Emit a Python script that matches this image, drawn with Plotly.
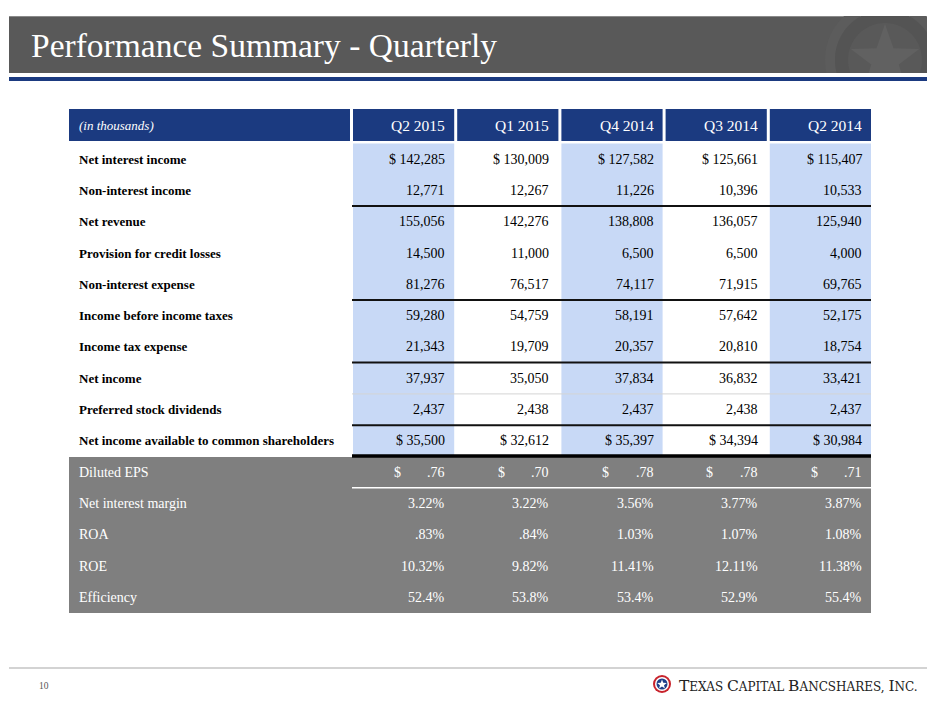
import math
import plotly.graph_objects as go

# --- data (in thousands) ---
quarters = ["Q2 2015", "Q1 2015", "Q4 2014", "Q3 2014", "Q2 2014"]

row_labels = [
    "Net interest income",
    "Non-interest income",
    "Net revenue",
    "Provision for credit losses",
    "Non-interest expense",
    "Income before income taxes",
    "Income tax expense",
    "Net income",
    "Preferred stock dividends",
    "Net income available to common shareholders",
]
net_interest_income = [142285, 130009, 127582, 125661, 115407]
non_interest_income = [12771, 12267, 11226, 10396, 10533]
net_revenue = [155056, 142276, 138808, 136057, 125940]
provision = [14500, 11000, 6500, 6500, 4000]
non_interest_expense = [81276, 76517, 74117, 71915, 69765]
income_before_taxes = [59280, 54759, 58191, 57642, 52175]
income_tax = [21343, 19709, 20357, 20810, 18754]
net_income = [37937, 35050, 37834, 36832, 33421]
preferred_dividends = [2437, 2438, 2437, 2438, 2437]
net_income_common = [35500, 32612, 35397, 34394, 30984]

ratio_labels = ["Diluted EPS", "Net interest margin", "ROA", "ROE", "Efficiency"]
diluted_eps = [0.76, 0.70, 0.78, 0.78, 0.71]
net_interest_margin = [3.22, 3.22, 3.56, 3.77, 3.87]
roa = [0.83, 0.84, 1.03, 1.07, 1.08]
roe = [10.32, 9.82, 11.41, 12.11, 11.38]
efficiency = [52.4, 53.8, 53.4, 52.9, 55.4]

amount_rows = [net_interest_income, non_interest_income, net_revenue, provision,
               non_interest_expense, income_before_taxes, income_tax, net_income,
               preferred_dividends, net_income_common]
dollar_rows = {0, 9}


def no_lead_zero(s):
    return s[1:] if s.startswith("0") else s


ratio_text = [
    [no_lead_zero(f"{v:.2f}") for v in diluted_eps],
    [no_lead_zero(f"{v:.2f}") + "%" for v in net_interest_margin],
    [no_lead_zero(f"{v:.2f}") + "%" for v in roa],
    [no_lead_zero(f"{v:.2f}") + "%" for v in roe],
    [f"{v:.1f}%" for v in efficiency],
]

# --- geometry / style ---
W, H = 940, 705
OFF = 8  # page body margin, so axis units equal window pixels
FONT = "Liberation Serif"
NAVY = "#1b3a80"
SHADE = "#c8d9f6"
GRAY_SEC = "#7f7f7f"
BAR = "#595959"

TABLE_X0, LABEL_X1 = 69, 350
VAL_X0, VAL_X1, GAP = 353, 871, 3
COL_W = (VAL_X1 - VAL_X0 - 4 * GAP) / 5
HEAD_Y0, HEAD_Y1 = 109, 141
ROW_Y0, ROW_H = 143.5, 31.3
PAD = 7
BAR_X0, BAR_X1, BAR_Y0, BAR_Y1 = 9, 927, 16, 73


def col_x(j):
    x0 = VAL_X0 + j * (COL_W + GAP)
    return x0, x0 + COL_W


def row_y(i):
    y0 = ROW_Y0 + i * ROW_H
    return y0, y0 + ROW_H


def row_c(i):
    return ROW_Y0 + (i + 0.5) * ROW_H


def star_pts(cx, cy, r_out, r_in):
    pts = []
    for k in range(10):
        r = r_out if k % 2 == 0 else r_in
        a = -math.pi / 2 + k * math.pi / 5
        pts.append((cx + r * math.cos(a), cy + r * math.sin(a)))
    return pts


def ring_pts(cx, cy, r0, r1, n=120):
    outer = [(cx + r1 * math.cos(2 * math.pi * k / n), cy + r1 * math.sin(2 * math.pi * k / n))
             for k in range(n + 1)]
    inner = [(cx + r0 * math.cos(2 * math.pi * k / n), cy + r0 * math.sin(2 * math.pi * k / n))
             for k in range(n, -1, -1)]
    return outer + inner


def clip(poly, x0, y0, x1, y1):
    # Sutherland-Hodgman against the header bar rectangle
    edges = [(lambda p: p[0] >= x0, lambda a, b: (x0, a[1] + (b[1] - a[1]) * (x0 - a[0]) / (b[0] - a[0]))),
             (lambda p: p[0] <= x1, lambda a, b: (x1, a[1] + (b[1] - a[1]) * (x1 - a[0]) / (b[0] - a[0]))),
             (lambda p: p[1] >= y0, lambda a, b: (a[0] + (b[0] - a[0]) * (y0 - a[1]) / (b[1] - a[1]), y0)),
             (lambda p: p[1] <= y1, lambda a, b: (a[0] + (b[0] - a[0]) * (y1 - a[1]) / (b[1] - a[1]), y1))]
    out = poly
    for inside, cut in edges:
        src, out = out, []
        if not src:
            break
        prev = src[-1]
        for cur in src:
            if inside(cur):
                if not inside(prev):
                    out.append(cut(prev, cur))
                out.append(cur)
            elif inside(prev):
                out.append(cut(prev, cur))
            prev = cur
    return out


def to_path(pts):
    return "M " + " L ".join(f"{x:.2f},{y:.2f}" for x, y in pts) + " Z"


shapes = []
ann = []


def rect(x0, y0, x1, y1, color):
    shapes.append(dict(type="rect", xref="x", yref="y", x0=x0, y0=y0, x1=x1, y1=y1,
                       fillcolor=color, line=dict(width=0)))


def hline(y, x0, x1, color, width):
    shapes.append(dict(type="line", xref="x", yref="y", x0=x0, x1=x1, y0=y, y1=y,
                       line=dict(color=color, width=width)))


def text(x, y, s, size, color="#000", anchor="left", bold=False, italic=False, family=FONT):
    ann.append(dict(x=x, y=y, xref="x", yref="y", text=s, showarrow=False,
                    xanchor=anchor, yanchor="middle",
                    font=dict(family=family, size=size, color=color,
                              weight="bold" if bold else "normal",
                              style="italic" if italic else "normal")))


def deco(pts, color):
    p = clip(pts, BAR_X0, BAR_Y0, BAR_X1, BAR_Y1)
    if p:
        shapes.append(dict(type="path", xref="x", yref="y", path=to_path(p),
                           fillcolor=color, line=dict(width=0)))


# header bar with faint watermark
rect(BAR_X0, BAR_Y0, BAR_X1, BAR_Y1, BAR)
hline(16.5, BAR_X0, BAR_X1, "#8a8a8a", 1)
deco(ring_pts(885, 60, 50, 60), "#5c5c5c")
deco(ring_pts(885, 60, 37, 50), "#545454")
deco(star_pts(885, 60, 36, 14.5), "#616161")
rect(BAR_X0, 77, BAR_X1, 81, NAVY)
text(29, 45, "Performance Summary - Quarterly", 33.5, "white")

# table header
rect(TABLE_X0, HEAD_Y0, LABEL_X1, HEAD_Y1, NAVY)
text(77, (HEAD_Y0 + HEAD_Y1) / 2, "(in thousands)", 13, "white", italic=True)
for j, q in enumerate(quarters):
    x0, x1 = col_x(j)
    rect(x0, HEAD_Y0, x1, HEAD_Y1, NAVY)
    text(x1 - PAD, (HEAD_Y0 + HEAD_Y1) / 2 + 0.5, q, 15.5, "white", anchor="right")

# shaded columns over the amount rows
for j in range(0, 5, 2):
    x0, x1 = col_x(j)
    rect(x0, row_y(0)[0], x1, row_y(len(amount_rows) - 1)[1], SHADE)

# ratio section background
rect(TABLE_X0, row_y(len(amount_rows))[0] + 0.5, VAL_X1,
     row_y(len(amount_rows) + len(ratio_labels) - 1)[1], GRAY_SEC)

# amount rows
for i, (lab, vals) in enumerate(zip(row_labels, amount_rows)):
    yc = row_c(i)
    text(77, yc, lab, 13, "#000", bold=True)
    for j, v in enumerate(vals):
        s = f"{v:,}"
        if i in dollar_rows:
            s = "$ " + s
        text(col_x(j)[1] - PAD, yc, s, 14, "#000", anchor="right")

# ratio rows
for k, (lab, vals) in enumerate(zip(ratio_labels, ratio_text)):
    i = len(amount_rows) + k
    yc = row_c(i)
    text(77, yc, lab, 14, "white")
    for j, s in enumerate(vals):
        x1 = col_x(j)[1]
        text(x1 - PAD, yc, s, 14, "white", anchor="right")
        if k == 0:
            text(x1 - 57, yc, "$", 14, "white", anchor="center")

# rules
for i in (1, 4, 6, 8):
    hline(row_y(i)[1], VAL_X0 - 1, VAL_X1, "#111", 2)
hline(row_y(7)[1], VAL_X0 - 1, VAL_X1, "#d4d4d4", 1)
hline(row_y(9)[1] - 0.5, VAL_X0 - 1, VAL_X1, "#000", 3.5)
hline(row_y(10)[1], VAL_X0 - 1, VAL_X1, "white", 1.5)

# footer
hline(668, 9, 927, "#c4c4c4", 1.5)
text(37, 686, "10", 9.5, "#555")
shapes.append(dict(type="circle", xref="x", yref="y", x0=653, y0=675, x1=671, y1=693,
                   fillcolor="#c8232c", line=dict(width=0)))
shapes.append(dict(type="circle", xref="x", yref="y", x0=655, y0=677, x1=669, y1=691,
                   fillcolor="white", line=dict(width=0)))
shapes.append(dict(type="circle", xref="x", yref="y", x0=656.5, y0=678.5, x1=667.5, y1=689.5,
                   fillcolor="#1f3f8a", line=dict(width=0)))
shapes.append(dict(type="path", xref="x", yref="y", path=to_path(star_pts(662, 684.5, 5, 2.1)),
                   fillcolor="white", line=dict(width=0)))


def small_caps(word, big=15.5):
    return f"<span style='font-size:{big}px'>{word[0]}</span>{word[1:]}"


logo = " ".join(small_caps(w) for w in ["TEXAS", "CAPITAL", "BANCSHARES,", "INC."])
text(677, 686, logo, 12, "#222", family="DejaVu Serif")

fig = go.Figure(go.Scatter(x=[OFF], y=[OFF], mode="markers", marker=dict(opacity=0),
                           hoverinfo="skip", showlegend=False))
fig.update_layout(
    width=W, height=H,
    margin=dict(l=0, r=0, t=0, b=0),
    paper_bgcolor="white", plot_bgcolor="white",
    xaxis=dict(range=[OFF, W + OFF], visible=False, fixedrange=True),
    yaxis=dict(range=[H + OFF, OFF], visible=False, fixedrange=True),
    shapes=shapes, annotations=ann, showlegend=False,
)
fig.write_html("out.html")
